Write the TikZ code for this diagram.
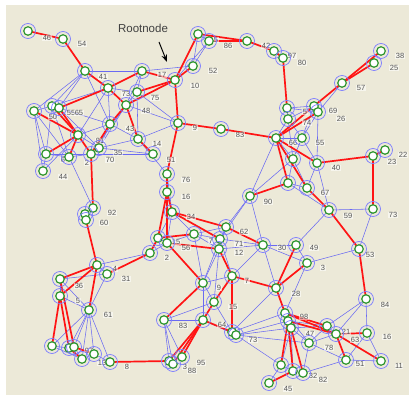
\documentclass[tikz,border=0pt]{standalone}
\usepackage{fontspec}
\setsansfont{Liberation Sans}
\usetikzlibrary{arrows.meta,backgrounds}
\definecolor{PanelBg}{HTML}{ECE9D8}
\definecolor{TreeRed}{HTML}{FF1414}
\definecolor{MeshBlue}{HTML}{6A6AF2}
\definecolor{RingBlue}{HTML}{7C7CFF}
\definecolor{SquareGreen}{HTML}{2F962F}
\definecolor{LabelGray}{HTML}{555555}

\begin{document}
\begin{tikzpicture}[
    x=1pt, y=-1pt,
    sq/.style={draw=SquareGreen, fill=white, line width=1.2pt, minimum size=8.5pt, inner sep=0pt},
    vtx/.style={circle, draw=RingBlue, line width=0.7pt, minimum size=15pt, inner sep=0pt,
        path picture={\node[sq] at (path picture bounding box.center) {};}},
    tree/.style={draw=TreeRed, line width=1.7pt},
    mesh/.style={draw=MeshBlue, line width=0.55pt},
    lbl/.style={font=\sffamily\fontsize{7.5}{8}\selectfont, text=LabelGray, fill=white,
        fill opacity=0.55, text opacity=1, inner sep=0.6pt},
    rootlbl/.style={font=\sffamily\fontsize{11.5}{12}\selectfont, text=black!75},
    >=Stealth
]
\useasboundingbox (0,0) rectangle (409,395);

% vertices
\foreach \nm/\x/\y in {
    n46/28/31, n54/63/39, n41/85/71, n73/108/88, n17/142/71, n75/137/92, n48/126/105,
    n50/34/111, n55/52/106, n65/59/108, n43/110/124, n81/78/135, n14/138/139, n35/99/148,
    n6/46/154, n2/69/157, n70/91/154, n44/43/171, n92/93/208, n60/85/214, n60b/86/220,
    n4/97/265, n31/107/274, n36/60/279, n5/60/296, n61/89/310, n27/52/346, n97/69/348,
    n97b/74/347, n13/82/359, n19/94/354, n8/110/362,
    n15t/198/34, n86/209/41, n42/247/41, n97t/274/51, n80/283/58, n52/193/66, n10/175/80,
    n9t/178/123, n83t/221/129,
    n38/381/51, n25/374/63, n57/342/83, n58/287/108, n69/314/106, n26/318/112, n74/288/119,
    n66/276/138, n55r/302/138, n20/293/159, n40/317/163, n23/373/156, n22/385/150,
    n89/288/183, n67/307/188, n59/329/210, n73r/373/209, n53/359/249, n30/263/245,
    n49/296/245, n3/307/263, n28/276/288, n84/366/299, n98/285/313, n98b/288/321,
    n47/291/328, n21/327/326, n63/336/334, n16r/367/333, n78/309/343, n51/346/360,
    n11/381/361, n45b/281/365, n32/293/371, n82/303/373, n45/269/383,
    n51m/153/154, n76/167/174, n16/167/192, n34/172/212, n62/226/227, n15m/158/238,
    n56/167/243, n7m/194/234, n71/220/239, n12/219/249, n2m/150/253, n90/250/196,
    n9b/203/283, n7/232/276, n15/214/302, n83/164/320, n64/203/320, n13m/232/332,
    n13mb/236/335, n3b/169/361, n3c/173/364, n95/182/357}
    \node[vtx] (\nm) at (\x,\y) {};

\node[rootlbl] (root) at (143,28) {Rootnode};
\coordinate (rtail) at (159,42);
\coordinate (rhead) at (167,62);
\draw[->, line width=1pt] (rtail) -- (rhead);

\begin{scope}[on background layer]
    \fill[PanelBg] (6,5) rectangle (409,395);

    % mesh links
    \foreach \a/\b in {
        n41/n50, n41/n55, n41/n65, n41/n43, n41/n17, n17/n75, n17/n48, n17/n52,
        n73/n43, n73/n75, n73/n81, n73/n55, n75/n48, n75/n14, n75/n9t, n48/n9t,
        n48/n35, n48/n70, n50/n55, n50/n6, n50/n44, n50/n2, n55/n6, n55/n2,
        n65/n35, n65/n43, n43/n35, n43/n14, n43/n81, n81/n44, n81/n35, n6/n2,
        n6/n44, n6/n70, n2/n70, n70/n35, n35/n14, n35/n51m, n70/n51m, n14/n9t,
        n14/n76, n2/n92, n10/n86, n52/n15t, n52/n86, n15t/n86,
        n92/n60, n92/n60b, n60/n60b, n2m/n4, n31/n4, n31/n36, n31/n61, n36/n5,
        n36/n61, n5/n61, n61/n27, n61/n97, n61/n97b, n61/n13, n61/n19, n61/n8,
        n27/n97, n27/n13, n97b/n13, n19/n8, n13/n19,
        n58/n74, n58/n69, n58/n26, n74/n69, n74/n66, n74/n55r, n69/n55r, n26/n55r,
        n26/n40, n69/n26, n55r/n20, n66/n20, n20/n89, n20/n67, n55r/n40, n40/n67,
        n40/n59, n89/n67, n89/n59, n57/n26, n66/n55r, n74/n20, n20/n90, n66/n90,
        n59/n73r, n73r/n53, n59/n49, n49/n30, n49/n3, n30/n3, n3/n53,
        n90/n62, n90/n30, n90/n71, n62/n71, n62/n12, n62/n7m, n7m/n71, n7m/n12,
        n71/n30, n12/n30, n34/n7m, n34/n15m, n34/n56, n15m/n56, n56/n7m, n2m/n56,
        n76/n34, n12/n9b, n71/n9b, n7m/n9b, n71/n7, n30/n7, n30/n28, n12/n15,
        n9b/n7, n9b/n15, n9b/n64, n83/n64, n83/n3b, n83/n3c, n83/n95, n15/n83,
        n15/n13m, n64/n13mb, n13m/n13mb, n13m/n28, n13m/n98, n13mb/n47, n13mb/n98b,
        n13mb/n45b, n13mb/n78, n3/n98, n84/n21, n84/n16r, n84/n63, n21/n63, n21/n78,
        n16r/n11, n16r/n51, n51/n11, n63/n78, n78/n47, n47/n32, n78/n82, n45b/n32,
        n45b/n45, n51/n78, n21/n47, n98/n47, n98/n78, n47/n45b, n82/n51, n32/n82,
        n98b/n21}
        \draw[mesh] (\a.center) -- (\b.center);

    % spanning tree from the root
    \foreach \a/\b in {
        n46/n54, n54/n41, n41/n73, n73/n17, n73/n48, n65/n73, n17/n10, n75/n10,
        n48/n10, n10/n52, n10/n15t, n15t/n42, n86/n42, n42/n97t, n97t/n80, n80/n58,
        n10/n9t, n9t/n83t, n83t/n66, n9t/n76, n76/n16, n16/n34, n16/n15m, n16/n56,
        n15m/n2m, n2m/n31, n34/n62, n34/n71, n15m/n7m, n56/n12, n62/n30, n12/n7,
        n56/n9b, n7/n28, n7/n15, n15/n64, n7/n13m, n64/n13m, n9b/n83, n64/n3b,
        n64/n3c, n64/n95, n8/n3b, n28/n3, n28/n49, n28/n98, n98/n21, n98b/n63,
        n98/n63, n63/n16r, n63/n11, n63/n51, n98b/n45b, n98b/n32, n47/n82, n32/n45,
        n53/n84, n59/n53, n67/n59, n40/n23, n23/n22, n23/n73r, n66/n40, n66/n89,
        n66/n67, n66/n69, n66/n26, n89/n90, n57/n69, n57/n25, n57/n38,
        n50/n81, n55/n81, n65/n81, n81/n6, n81/n2, n81/n70, n48/n43, n43/n70,
        n48/n14, n14/n51m, n70/n92, n60b/n4, n4/n36, n4/n5, n4/n61, n5/n27,
        n5/n97, n36/n97b, n97/n13, n97b/n19}
        \draw[tree] (\a.center) -- (\b.center);

    % vertex labels
    \foreach \nm/\t/\x/\y in {
        l46/46/47/38, l54/54/82/44, l41/41/103/77, l73/73/126/94, l17/17/162/75,
        l75/75/155/98, l48/48/146/111, l50/50/53/117, l55/55/71/113, l65/65/79/113,
        l43/43/130/129, l81/81/100/141, l14/14/157/144, l35/35/118/153, l6/6/63/160,
        l2/2/87/163, l70/70/110/160, l44/44/63/177, l92/92/112/213, l60/60/104/223,
        l4/4/115/269, l31/31/126/279, l36/36/79/286, l5/5/78/301, l61/61/108/315,
        l97/97/89/351, l13/13/102/363, l8/8/127/367,
        l15t/5/216/40, l86/86/228/46, l42/42/266/46, l97t/97/292/56, l80/80/302/63,
        l52/52/213/71, l10/10/195/86, l9t/9/195/128, l83t/83/240/135,
        l38/38/400/56, l25/25/394/68, l57/57/361/88, l58/5/305/112, l69/69/333/111,
        l26/26/341/119, l74/74/307/123, l66/66/293/143, l55r/55/320/143, l40/40/336/168,
        l23/23/392/162, l22/22/403/155, l67/67/325/193, l59/59/348/216, l73r/73/393/215,
        l53/53/370/255, l30/30/282/248, l49/49/314/248, l3/3/323/268, l28/28/296/294,
        l84/84/385/305, l98/98/304/317, l47/47/310/334, l21/21/346/332, l63/63/355/340,
        l16r/16/387/337, l78/78/329/348, l51/51/360/364, l11/11/399/366, l32/32/313/376,
        l82/82/323/380, l45/45/288/389,
        l51m/51/171/160, l76/76/186/180, l16/16/186/197, l34/34/191/217, l62/62/244/232,
        l15m/15/176/242, l56/56/186/248, l7m/7/211/241, l71/71/239/244, l12/12/239/253,
        l2m/2/167/258, l90/90/268/202,
        l9b/9/219/288, l7/7/247/281, l15/15/233/307, l83/83/183/326, l64/64/222/325,
        l13m/73/253/340, l3b/3/185/367, l88/88/192/371, l95/95/201/363}
        \node[lbl] (\nm) at (\x,\y) {\t};
\end{scope}
\end{tikzpicture}
\end{document}
